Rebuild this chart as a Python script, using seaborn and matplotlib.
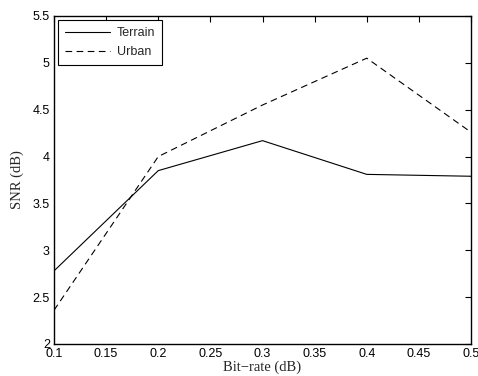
import matplotlib
matplotlib.use("Agg")
import matplotlib.pyplot as plt
import seaborn as sns
import pandas as pd

bit_rate = [0.1, 0.2, 0.3, 0.4, 0.5]
terrain = [2.78, 3.85, 4.17, 3.81, 3.79]
urban = [2.36, 4.0, 4.55, 5.05, 4.26]
series_names = ["Terrain", "Urban"]
x_ticks = [0.1, 0.15, 0.2, 0.25, 0.3, 0.35, 0.4, 0.45, 0.5]
y_ticks = [2, 2.5, 3, 3.5, 4, 4.5, 5, 5.5]

df = pd.DataFrame({
    "x": bit_rate * 2,
    "y": terrain + urban,
    "series": [series_names[0]] * len(bit_rate) + [series_names[1]] * len(bit_rate),
})

sns.set_style("white")
plt.rcParams["font.family"] = ["Liberation Sans", "DejaVu Sans"]

fig = plt.figure(figsize=(4.78, 3.76), dpi=100)
ax = fig.add_axes([54 / 478, 1 - 344 / 376, (471 - 54) / 478, (344 - 16) / 376])

sns.lineplot(data=df, x="x", y="y", style="series", hue="series",
             palette=["black", "black"], dashes={"Terrain": "", "Urban": (6, 4)},
             linewidth=0.8, ax=ax, legend=True)

ax.set_xlim(0.1, 0.5)
ax.set_ylim(2, 5.5)
ax.set_xticks(x_ticks)
ax.set_xticklabels([f"{v:g}" for v in x_ticks])
ax.set_yticks(y_ticks)
ax.set_yticklabels([f"{v:g}" for v in y_ticks])
ax.tick_params(direction="in", top=True, right=True, length=4, width=0.8,
               labelsize=9, colors="black")
ax.tick_params(axis="x", pad=3)
ax.tick_params(axis="y", pad=3)
for s in ax.spines.values():
    s.set_color("black")
    s.set_linewidth(1.0)

ax.set_xlabel("Bit\u2212rate (dB)", family=["Liberation Serif", "DejaVu Serif"], fontsize=10.5, labelpad=0)
ax.set_ylabel("SNR (dB)", family=["Liberation Serif", "DejaVu Serif"], fontsize=10.5, labelpad=6)

leg = ax.legend(loc="upper left", fontsize=9, frameon=True, fancybox=False,
                edgecolor="black", framealpha=1, borderaxespad=0.35,
                handlelength=3.6, handletextpad=0.5, borderpad=0.55, labelspacing=0.55)
leg.get_frame().set_linewidth(0.8)

fig.savefig("out.png", dpi=100)
